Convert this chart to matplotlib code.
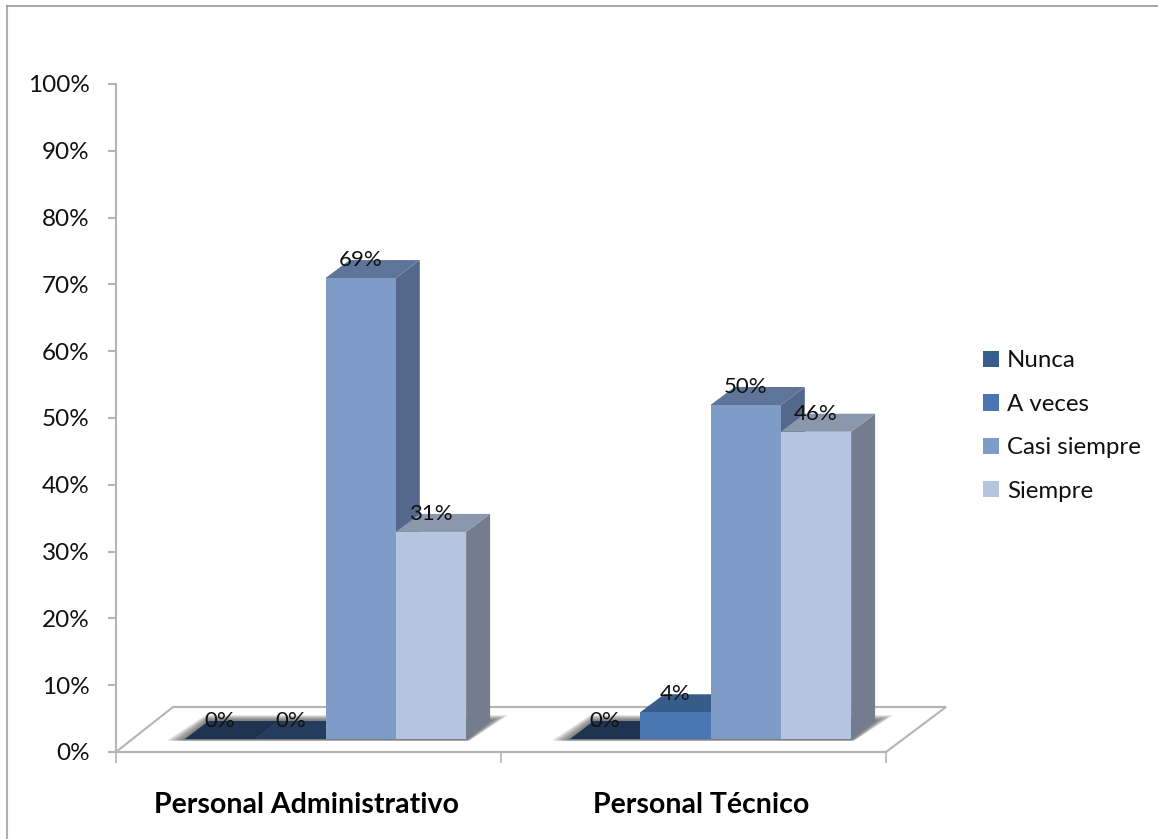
import matplotlib
matplotlib.use("Agg")
import matplotlib.pyplot as plt
from matplotlib.lines import Line2D
from matplotlib.patches import Polygon, Rectangle

categories = ["Personal Administrativo", "Personal Técnico"]
series_names = ["Nunca", "A veces", "Casi siempre", "Siempre"]
nunca = [0, 0]
a_veces = [0, 4]
casi_siempre = [69, 50]
siempre = [31, 46]
y_ticks = list(range(0, 101, 10))

front_colors = ["#1F3552", "#4A76B1", "#7F9CC8", "#B6C5DF"]
top_colors = ["#1D3350", "#385C8A", "#5E7499", "#8A97AD"]
flat_top_colors = ["#1D3350", "#243C5E", "#5E7499", "#8A97AD"]
side_colors = ["#1A2C46", "#2F4C73", "#53688A", "#747C8F"]
legend_colors = ["#385D8A", "#4A76B1", "#7F9CC8", "#B6C5DF"]
line_gray = "#B4B4B4"

W, H = 1158, 839
plt.rcParams["font.family"] = ["Lato", "DejaVu Sans"]
fig = plt.figure(figsize=(W / 100, H / 100), dpi=100)

# plot box in figure pixels
left, right, top, bottom = 116, 886, 84, 752
ax = fig.add_axes([left / W, 1 - bottom / H, (right - left) / W, (bottom - top) / H])
ax.set_xlim(0, len(categories))
ax.set_ylim(0, 100)
ax.patch.set_visible(False)

PX_X = (right - left) / len(categories)
PX_Y = (bottom - top) / 100


def dx(px):
    return px / PX_X


def dy(px):
    return px / PX_Y


# floor of the 3D box
floor = [(0, 0), (2, 0), (2 + dx(60), dy(45)), (dx(57), dy(45))]
ax.add_patch(Polygon(floor, closed=True, facecolor="white", edgecolor=line_gray,
                     linewidth=1.5, clip_on=False, zorder=1))

BAR_W = 70.3 / PX_X
LIFT = dy(13)
SHIFT = dx(17)
DEPTH_X = dx(24)
DEPTH_Y = dy(18)

values = [nunca, a_veces, casi_siempre, siempre]

# soft shadow under each group of bars
for g in range(len(categories)):
    x0 = g + 0.5 + SHIFT - 2 * BAR_W
    x1 = g + 0.5 + SHIFT + 2 * BAR_W
    steps = 9
    for k in range(steps, 0, -1):
        e = k * 2.0
        up = k * 0.65
        pts = [(x0 - dx(e), LIFT - dy(1.5)),
               (x1 + dx(e * 0.2), LIFT - dy(1.5)),
               (x1 + DEPTH_X + dx(e), LIFT + DEPTH_Y + dy(up)),
               (x0 + DEPTH_X - dx(e * 0.2), LIFT + DEPTH_Y + dy(up))]
        ax.add_patch(Polygon(pts, closed=True, facecolor="#505050", edgecolor="none",
                             alpha=0.13, clip_on=False, zorder=2))

# bars drawn left to right so each front covers the previous side face
z = 3
for g in range(len(categories)):
    for s in range(len(series_names)):
        v = values[s][g]
        x = g + 0.5 + SHIFT + (s - 2) * BAR_W
        y1 = LIFT + v
        side = [(x + BAR_W, LIFT), (x + BAR_W + DEPTH_X, LIFT + DEPTH_Y),
                (x + BAR_W + DEPTH_X, y1 + DEPTH_Y), (x + BAR_W, y1)]
        cap = [(x, y1), (x + BAR_W, y1), (x + BAR_W + DEPTH_X, y1 + DEPTH_Y),
               (x + DEPTH_X, y1 + DEPTH_Y)]
        cap_color = flat_top_colors[s] if v == 0 else top_colors[s]
        ax.add_patch(Polygon(side, closed=True, facecolor=side_colors[s], edgecolor="none",
                             clip_on=False, zorder=z))
        ax.add_patch(Polygon(cap, closed=True, facecolor=cap_color, edgecolor="none",
                             clip_on=False, zorder=z))
        ax.add_patch(Rectangle((x, LIFT), BAR_W, v, facecolor=front_colors[s], edgecolor="none",
                               clip_on=False, zorder=z))
        z += 1

# value labels sit above the front edge of each bar top
for g in range(len(categories)):
    for s in range(len(series_names)):
        v = values[s][g]
        x = g + 0.5 + SHIFT + (s - 2) * BAR_W + BAR_W / 2
        ax.text(x, LIFT + v + dy(18), f"{v}%", ha="center", va="center",
                fontsize=16, color="#111111", clip_on=False, zorder=50)

# axes
for name in ["top", "right"]:
    ax.spines[name].set_visible(False)
for name in ["left", "bottom"]:
    ax.spines[name].set_color(line_gray)
    ax.spines[name].set_linewidth(1.5)
    ax.spines[name].set_zorder(1.5)

ax.set_yticks(y_ticks)
ax.set_yticklabels([f"{t}%" for t in y_ticks], fontsize=17.5, color="#111111")
ax.tick_params(axis="y", length=6, width=1.5, color=line_gray, pad=13)
ax.set_xticks([0, 1, 2])
ax.set_xticklabels([])
ax.tick_params(axis="x", which="major", length=8, width=1.2, color=line_gray)
ax.set_xticks([0.495, 1.52], minor=True)
ax.set_xticklabels(categories, minor=True, fontsize=20.5, fontweight="bold", color="#000000")
ax.tick_params(axis="x", which="minor", length=0, pad=29)

# legend
handles = [Rectangle((0, 0), 1, 1, facecolor=c, edgecolor="none") for c in legend_colors]
fig.legend(handles, series_names, loc="center left",
           bbox_to_anchor=(983 / W, 1 - 426 / H), frameon=False,
           fontsize=17.3, labelcolor="#111111", handlelength=0.67, handleheight=0.67,
           handletextpad=0.33, labelspacing=0.93, borderpad=0, borderaxespad=0)

# chart frame: only the upper and left edges are present
fig.add_artist(Line2D([6.5 / W, 6.5 / W], [0, 1 - 6 / H], color="#B0B0B0", lw=1.5))
fig.add_artist(Line2D([6.5 / W, 1], [1 - 6 / H, 1 - 6 / H], color="#9A9A9A", lw=1.2))

fig.savefig("out.png", dpi=100, facecolor="white")
